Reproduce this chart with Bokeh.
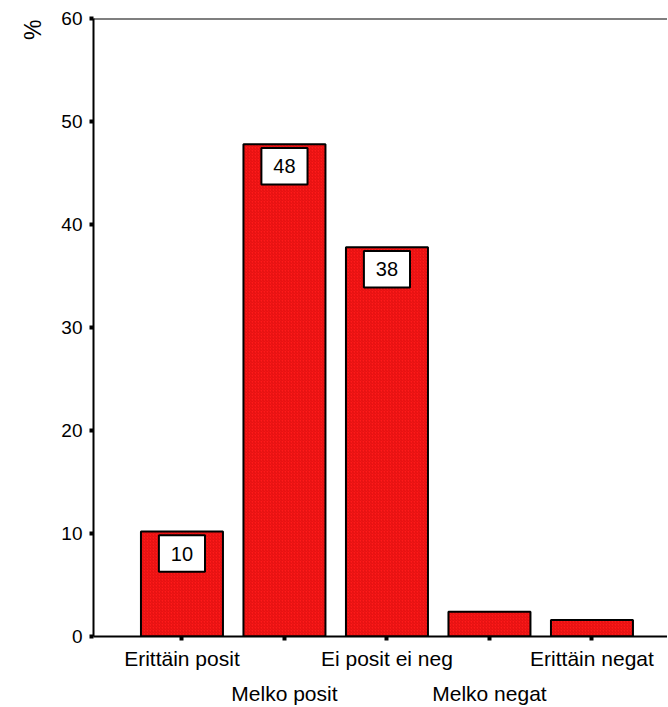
from bokeh.plotting import figure
from bokeh.models import (ColumnDataSource, FixedTicker, LinearAxis, Span, Title, Range1d)
from bokeh.embed import file_html
from bokeh.resources import INLINE
from bokeh.core.properties import value

categories = ["Erittäin posit", "Melko posit", "Ei posit ei neg", "Melko negat", "Erittäin negat"]
percents = [10.2, 47.8, 37.8, 2.4, 1.6]
bar_labels = ["10", "48", "38", "", ""]
y_ticks = [0, 10, 20, 30, 40, 50, 60]

FONT = "Liberation Sans"
xs = list(range(len(categories)))

src = ColumnDataSource(dict(x=xs, top=percents))
shown = [i for i, t in enumerate(bar_labels) if t]
lab_src = ColumnDataSource(dict(
    x=[xs[i] for i in shown],
    y=[percents[i] - 2.15 for i in shown],
    text=[bar_labels[i] for i in shown],
))

p = figure(width=667, height=707, output_backend="svg", toolbar_location=None,
           x_range=Range1d(-0.863, 4.737), y_range=Range1d(0, 60),
           min_border_left=93, min_border_right=0, min_border_top=18, min_border_bottom=69,
           x_axis_location=None, y_axis_location=None)
p.outline_line_color = None
p.grid.grid_line_color = None
p.background_fill_color = "white"

p.vbar(x="x", top="top", width=0.8, source=src, fill_color="#ff1a1a",
       hatch_pattern="/", hatch_color="#b00000", hatch_alpha=0.4, hatch_scale=3, hatch_weight=1,
       line_color="black", line_width=2)

p.rect(x="x", y="y", width=0.45, height=3.55, source=lab_src, fill_color="white",
       line_color="black", line_width=2)
p.text(x="x", y="y", text="text", source=lab_src, text_align="center", text_baseline="middle",
       text_font=value(FONT), text_font_size="20px", text_color="black")

p.add_layout(Span(location=60, dimension="width", line_color="black", line_width=2))

yax = LinearAxis(ticker=FixedTicker(ticks=y_ticks))
yax.axis_line_width = 2
yax.major_tick_line_width = 4
yax.major_tick_out = 4
yax.major_tick_in = 0
yax.minor_tick_line_color = None
yax.major_label_standoff = 7
yax.major_label_text_font = FONT
yax.major_label_text_font_size = "19px"
yax.major_label_text_color = "black"
p.add_layout(yax, "left")

xax = LinearAxis(ticker=FixedTicker(ticks=xs))
xax.axis_line_width = 2
xax.major_tick_line_width = 4
xax.major_tick_out = 4
xax.major_tick_in = 0
xax.minor_tick_line_color = None
xax.major_label_standoff = 6
xax.major_label_text_font = FONT
xax.major_label_text_font_size = "21px"
xax.major_label_text_color = "black"
xax.major_label_overrides = {i: (c if i % 2 == 0 else "") for i, c in enumerate(categories)}
p.add_layout(xax, "below")

xax2 = LinearAxis(ticker=FixedTicker(ticks=xs))
xax2.axis_line_color = None
xax2.major_tick_line_color = None
xax2.major_tick_out = 0
xax2.major_tick_in = 0
xax2.minor_tick_line_color = None
xax2.major_label_standoff = 9
xax2.major_label_text_font = FONT
xax2.major_label_text_font_size = "21px"
xax2.major_label_text_color = "black"
xax2.major_label_overrides = {i: (c if i % 2 == 1 else " ") for i, c in enumerate(categories)}
p.add_layout(xax2, "below")

p.add_layout(Title(text="%", align="right", vertical_align="top", text_font=FONT,
                   text_font_size="23px", text_font_style="normal", text_color="black",
                   standoff=22, offset=1), "left")

open("out.html", "w").write(file_html(p, INLINE))
